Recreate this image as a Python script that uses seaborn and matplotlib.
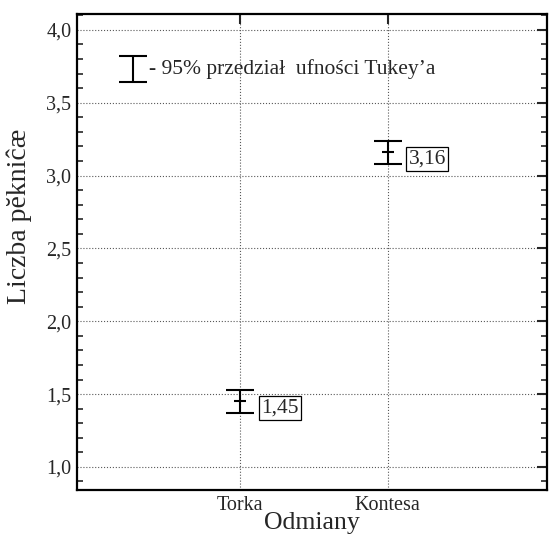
import pandas as pd
import matplotlib
matplotlib.use("Agg")
import matplotlib.pyplot as plt
import seaborn as sns
from matplotlib.ticker import MultipleLocator, FuncFormatter

odmiany = ["Torka", "Kontesa"]
srednie = [1.45, 3.16]
przedzial = [0.08, 0.08]
etykiety = ["1,45", "3,16"]

df = pd.DataFrame({"Odmiana": odmiany, "Srednia": srednie, "Przedzial": przedzial})

sns.set_style("white")
plt.rcParams['font.family'] = ['Liberation Serif', 'DejaVu Serif']

fig = plt.figure(figsize=(5.49, 5.34), dpi=100)
ax = fig.add_axes([0.140, 0.082, 0.856, 0.892])

# przedzialy ufnosci
ax.errorbar(df["Odmiana"], df["Srednia"], yerr=df["Przedzial"], fmt="none",
            ecolor="black", elinewidth=1.5, capsize=10, capthick=1.5, zorder=3)
sns.scatterplot(data=df, x="Odmiana", y="Srednia", marker="_", s=80,
                color="black", linewidth=1.5, ax=ax, zorder=4)

for i, (m, lab) in enumerate(zip(srednie, etykiety)):
    ax.annotate(lab, (i, m), xytext=(15, -5), textcoords="offset points",
                ha="left", va="center", fontsize=15.5,
                bbox=dict(boxstyle="square,pad=0.12", fc="white", ec="black", lw=0.9))

# legenda
ax.errorbar([-0.73], [3.73], yerr=[0.09], fmt="none", ecolor="black",
            elinewidth=1.5, capsize=10, capthick=1.5)
ax.text(-0.62, 3.73, "- 95% przedział  ufności Tukey’a", fontsize=15.5,
        ha="left", va="center")

ax.set_xlim(-1.11, 2.08)
ax.set_ylim(0.84, 4.11)
ax.yaxis.set_major_locator(MultipleLocator(0.5))
ax.yaxis.set_minor_locator(MultipleLocator(0.1))
ax.yaxis.set_major_formatter(FuncFormatter(lambda v, p: f"{v:.1f}".replace(".", ",")))

ax.grid(True, which="major", linestyle=":", color="0.35", linewidth=0.8)
ax.tick_params(axis="both", which="major", direction="in", length=7, width=1.5,
               labelsize=14.5, top=True, right=True, pad=4)
ax.tick_params(axis="y", which="minor", direction="in", length=4, width=1.2,
               left=True, right=True)
for s in ax.spines.values():
    s.set_linewidth(1.6)
    s.set_color("black")

ax.set_xlabel("Odmiany", fontsize=18.5, labelpad=-2)
ax.set_ylabel("Liczba pĕkniĉæ", fontsize=20)
ax.yaxis.set_label_coords(-0.095, 0.574)

fig.savefig("out.png", dpi=100)
